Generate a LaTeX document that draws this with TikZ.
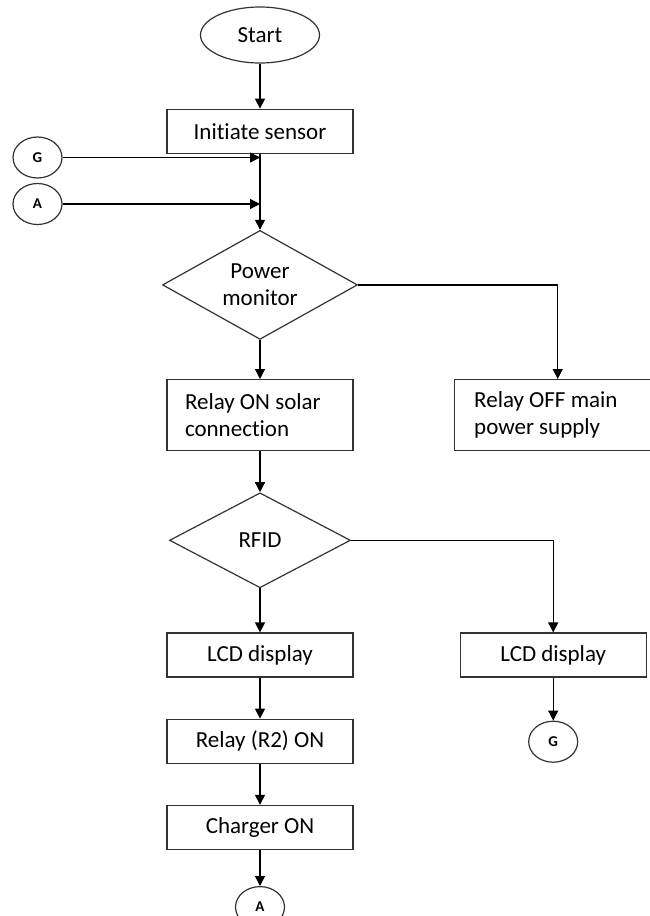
\documentclass[tikz,border=0pt]{standalone}
\usepackage{fontspec}
\setmainfont[Ligatures=NoCommon]{Carlito}
\usetikzlibrary{arrows.meta,positioning,shapes.geometric}
\tikzset{
  flowbox/.style={
    draw=black!80,
    line width=1.2pt,
    fill=white,
    align=center,
    font=\fontsize{23}{27}\selectfont,
    inner sep=0pt,
    minimum width=186pt,
    minimum height=44pt
  },
  notebox/.style={
    flowbox,
    align=flush left,
    text width=150pt,
    inner xsep=18pt,
    minimum height=71pt
  },
  decide/.style={
    diamond,
    aspect=1.8,
    draw=black!80,
    line width=1.2pt,
    align=center,
    font=\fontsize{23}{27}\selectfont,
    inner sep=0pt
  },
  terminal/.style={
    ellipse,
    draw=black!80,
    line width=1.2pt,
    font=\fontsize{23}{27}\selectfont,
    inner sep=0pt,
    minimum width=119pt,
    minimum height=56pt
  },
  offpage/.style={
    ellipse,
    draw=black!80,
    line width=1.2pt,
    font=\bfseries\fontsize{15}{17}\selectfont,
    inner sep=0pt,
    minimum width=49pt,
    minimum height=41pt
  },
  flow/.style={-{Triangle[length=10pt,width=10pt]},draw=black,line width=1.4pt}
}
\begin{document}
\begin{tikzpicture}[x=1pt,y=-1pt]
\useasboundingbox (0,0) rectangle (650,916);
\node[terminal] (start) at (260,35) {Start};
\node[flowbox,below=45pt of start] (init) {Initiate sensor};
\node[decide,minimum width=195pt,minimum height=109pt,below=76pt of init] (power) {Power\\monitor};
\node[notebox,below=39pt of power] (relayon) {Relay ON solar\\connection};
\node[notebox,text width=167pt,inner xsep=20pt,right=100pt of relayon] (relayoff) {Relay OFF main\\power supply};
\node[decide,minimum width=181pt,minimum height=95pt,below=41pt of relayon] (rfid) {RFID};
\node[flowbox,below=44pt of rfid] (lcd) {LCD display};
\node[flowbox,right=106pt of lcd] (lcdright) {LCD display};
\node[offpage,below=43pt of lcdright] (gout) {G};
\node[flowbox,below=41pt of lcd] (relaytwo) {Relay (R2) ON};
\node[flowbox,below=41pt of relaytwo] (charger) {Charger ON};
\node[offpage,below=36pt of charger] (aout) {A};
\node[offpage] (gin) at (37.5,157.5) {G};
\node[offpage] (ain) at (37.5,204) {A};
\coordinate (gjoin) at (gin -| init.south);
\coordinate (ajoin) at (ain -| init.south);

\draw[flow] (start) -- (init);
\draw[flow] (init) -- (power);
\draw[flow] (gin) -- (gjoin);
\draw[flow] (ain) -- (ajoin);
\draw[flow] (power) -- (relayon);
\draw[flow] (power.east) -| (relayoff);
\draw[flow] (relayon) -- (rfid);
\draw[flow] (rfid) -- (lcd);
\draw[flow] (rfid.east) -| (lcdright);
\draw[flow] (lcdright) -- (gout);
\draw[flow] (lcd) -- (relaytwo);
\draw[flow] (relaytwo) -- (charger);
\draw[flow] (charger) -- (aout);
\end{tikzpicture}
\end{document}
